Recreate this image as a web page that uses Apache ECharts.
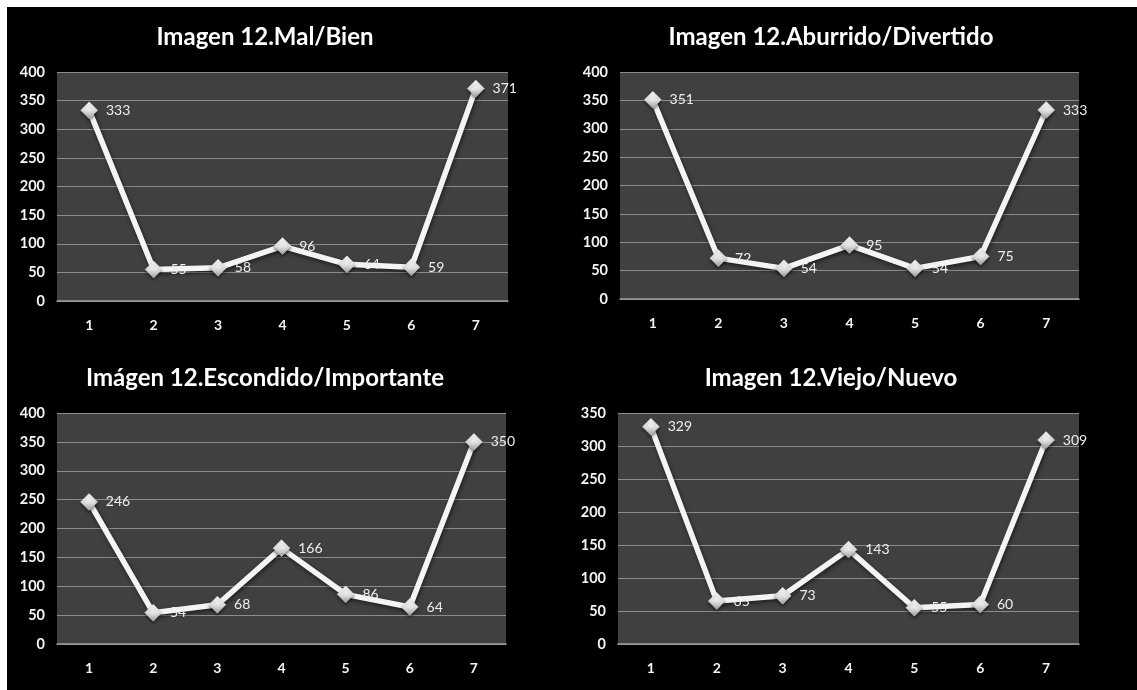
<!DOCTYPE html>
<html>
<head>
<meta charset="utf-8">
<title>Imagen 12</title>
<script src="https://cdn.jsdelivr.net/npm/echarts@6/dist/echarts.min.js"></script>
<style>
  html, body { margin: 0; padding: 0; background: #ffffff; }
  #chart { width: 1137px; height: 690px; }
</style>
</head>
<body>
<div id="chart"></div>
<script>
// Scale points 1..7 shared by every panel
const categories = ['1', '2', '3', '4', '5', '6', '7'];

// Panel titles
const titles = [
  'Imagen 12.Mal/Bien',
  'Imagen 12.Aburrido/Divertido',
  'Imágen 12.Escondido/Importante',
  'Imagen 12.Viejo/Nuevo'
];

// Answer counts per scale point
const malBien = [333, 55, 58, 96, 64, 59, 371];
const aburridoDivertido = [351, 72, 54, 95, 54, 75, 333];
const escondidoImportante = [246, 54, 68, 166, 86, 64, 350];
const viejoNuevo = [329, 65, 73, 143, 55, 60, 309];

// Value-axis maxima
const yMax = [400, 400, 400, 350];

const seriesData = [malBien, aburridoDivertido, escondidoImportante, viejoNuevo];

// Panel layout (plot rectangles and title anchors)
const grids = [
  { left: 57, top: 72, width: 451, height: 229 },
  { left: 620, top: 72, width: 459, height: 227 },
  { left: 57, top: 413, width: 449, height: 231 },
  { left: 618, top: 413, width: 461, height: 231 }
];
const titlePos = [
  { x: 265, y: 25 },
  { x: 831, y: 25 },
  { x: 265, y: 366 },
  { x: 831, y: 366 }
];

const FONT = 'Lato, "Open Sans", sans-serif';

const option = {
  backgroundColor: '#ffffff',
  animation: false,
  graphic: [{
    type: 'rect',
    shape: { x: 7, y: 7, width: 1130, height: 683 },
    style: { fill: '#000000' },
    z: -10,
    silent: true
  }],
  title: titles.map((t, i) => ({
    text: t,
    left: titlePos[i].x,
    top: titlePos[i].y,
    textAlign: 'center',
    padding: 0,
    textStyle: { color: '#ffffff', fontFamily: FONT, fontWeight: 'bold', fontSize: 24 }
  })),
  grid: grids.map(g => Object.assign({
    show: true,
    backgroundColor: '#404040',
    borderWidth: 0,
    containLabel: false
  }, g)),
  xAxis: grids.map((g, i) => ({
    type: 'category',
    gridIndex: i,
    data: categories,
    boundaryGap: true,
    axisLine: { show: true, lineStyle: { color: '#9a9a9a', width: 1.5 } },
    axisTick: { show: false },
    axisLabel: {
      color: '#f4f4f4', fontFamily: FONT, fontWeight: 'bold', fontSize: 14, margin: 17
    },
    splitLine: { show: false }
  })),
  yAxis: grids.map((g, i) => ({
    type: 'value',
    gridIndex: i,
    min: 0,
    max: yMax[i],
    interval: 50,
    axisLine: { show: false },
    axisTick: { show: false },
    axisLabel: {
      color: '#f4f4f4', fontFamily: FONT, fontWeight: 'bold', fontSize: 14.5, margin: 12
    },
    splitLine: { show: true, lineStyle: { color: '#8c8c8c', width: 1 } }
  })),
  series: seriesData.map((d, i) => ({
    type: 'line',
    xAxisIndex: i,
    yAxisIndex: i,
    data: d,
    symbol: 'diamond',
    symbolSize: 17,
    lineStyle: {
      color: '#f4f4f4', width: 5.5,
      shadowColor: 'rgba(0,0,0,0.55)', shadowBlur: 4, shadowOffsetX: 1, shadowOffsetY: 2
    },
    itemStyle: {
      color: {
        type: 'linear', x: 0, y: 0, x2: 0, y2: 1,
        colorStops: [
          { offset: 0, color: '#ffffff' },
          { offset: 0.5, color: '#e6e6e6' },
          { offset: 1, color: '#9c9c9c' }
        ]
      },
      borderColor: '#d8d8d8',
      borderWidth: 0.5,
      shadowColor: 'rgba(0,0,0,0.5)', shadowBlur: 3, shadowOffsetY: 2
    },
    label: {
      show: true,
      position: 'right',
      distance: 8,
      color: '#eeeeee',
      fontFamily: FONT,
      fontSize: 14
    }
  }))
};

const chart = echarts.init(document.getElementById('chart'), null, { renderer: 'canvas' });
chart.setOption(option);
</script>
</body>
</html>
